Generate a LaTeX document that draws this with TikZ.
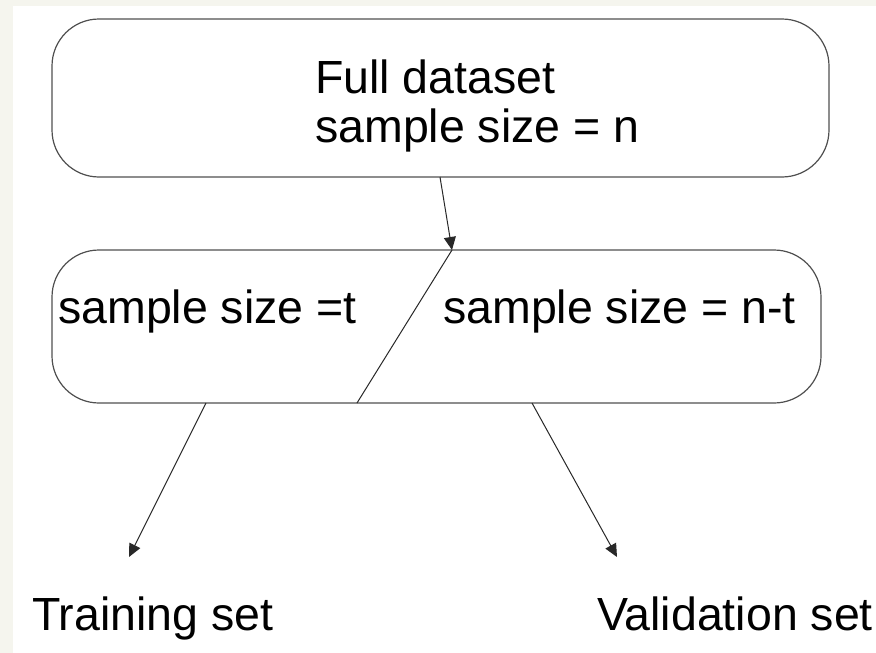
\documentclass[tikz,border=0pt]{standalone}
\usepackage{fontspec}
\setmainfont{Liberation Sans}
\usetikzlibrary{arrows.meta}
\definecolor{paper}{RGB}{245,245,238}
\definecolor{edge}{RGB}{80,80,80}
\definecolor{wire}{RGB}{40,40,40}
\begin{document}
\begin{tikzpicture}[x=1pt,y=-1pt,
  roundbox/.style={draw=edge,line width=1.2pt,rounded corners=47pt,inner sep=0pt},
  label/.style={anchor=base west,inner sep=0pt,font=\fontsize{46.5}{49}\selectfont},
  link/.style={draw=wire,line width=1pt,-{Triangle[length=13pt,width=12pt]}},
  divider/.style={draw=wire,line width=1pt}]
  % page background and white canvas
  \fill[paper] (0,0) rectangle (876,653);
  \fill[white] (13,6) rectangle (876,653);
  \useasboundingbox (0,0) rectangle (876,653);

  % the two rounded boxes
  \node[roundbox,minimum width=777pt,minimum height=158pt] (full) at (440.5,98) {};
  \node[roundbox,minimum width=769pt,minimum height=153pt] (split) at (436.5,326.5) {};

  % texts
  \node[label] (fulltxt) at (315,93) {Full dataset};
  \node[label] (fulln) at (315,142) {sample size = n};
  \node[label] (ttxt) at (58,323) {sample size =t};
  \node[label] (vtxt) at (443,323) {sample size = n-t};
  \node[label] (train) at (32,630) {Training set};
  \node[label] (valid) at (597,630) {Validation set};

  % connector points on the box borders
  \coordinate (fullout) at (440,177);
  \coordinate (splitin) at (452,250);
  \coordinate (splitcut) at (357,403);
  \coordinate (trainout) at (206,403);
  \coordinate (validout) at (532,403);
  \coordinate (traintip) at (129,557);
  \coordinate (validtip) at (617,557);

  \draw[link] (fullout) -- (splitin);
  \draw[divider] (splitin) -- (splitcut);
  \draw[link] (trainout) -- (traintip);
  \draw[link] (validout) -- (validtip);
\end{tikzpicture}
\end{document}
